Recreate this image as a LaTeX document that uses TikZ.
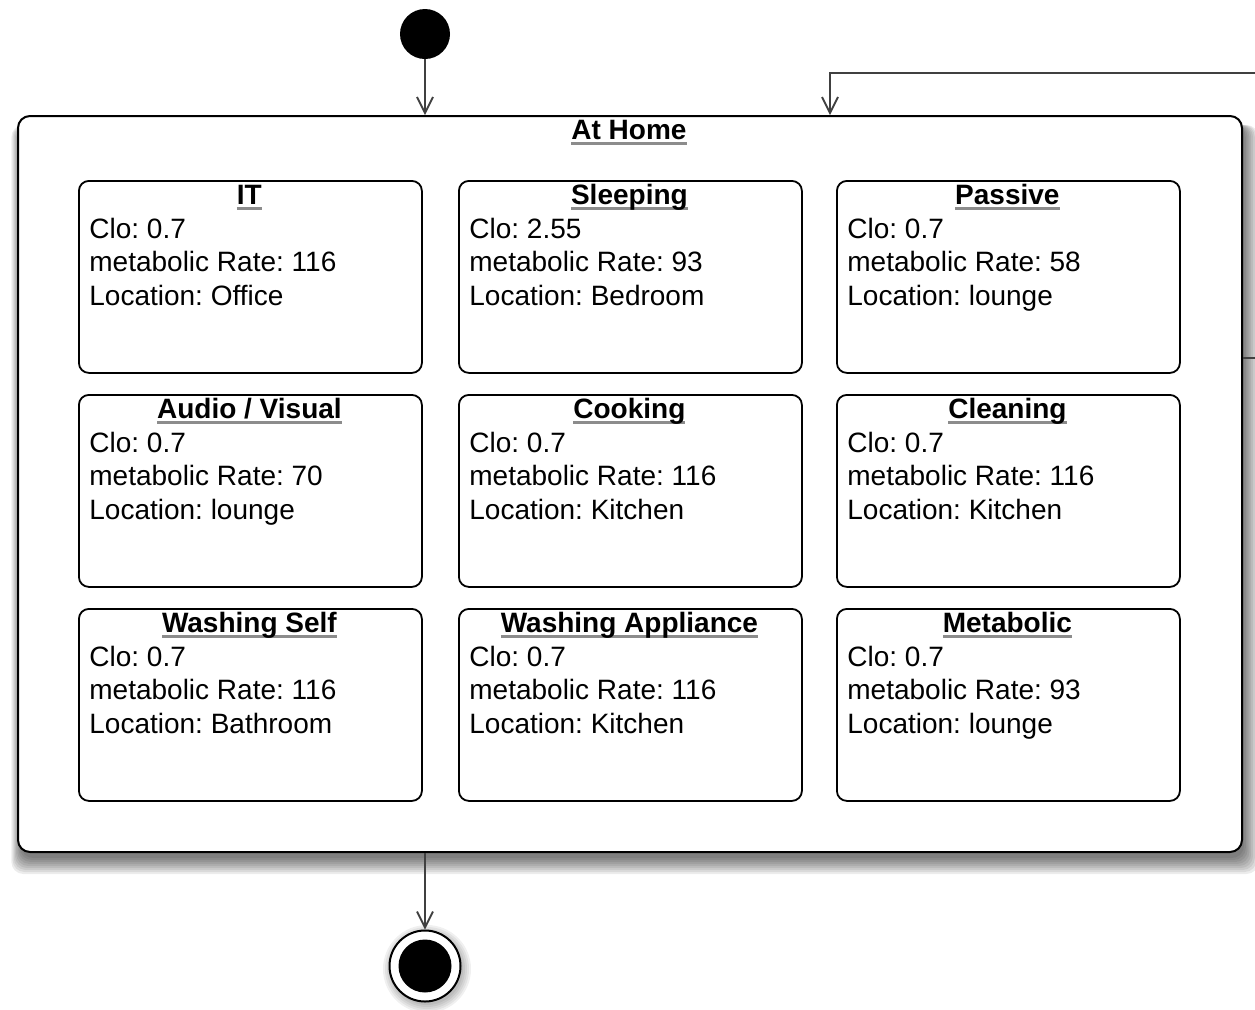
\documentclass[tikz,border=0pt]{standalone}
\usepackage{fontspec}
\setmainfont{Liberation Sans}
\usetikzlibrary{arrows.meta,calc}

\definecolor{ulgray}{gray}{0.55}
\definecolor{linkgray}{gray}{0.25}

% bold title with a grey underline below the baseline
\newcommand\ultitle[1]{\setbox0\hbox{\bfseries #1}\rlap{\textcolor{ulgray}{\rule[-3pt]{\wd0}{1.5pt}}}\box0}

\tikzset{
  stateframe/.style={draw, line width=0.9pt, rounded corners=5pt, fill=white,
    minimum width=171.5pt, minimum height=96pt, inner sep=0pt},
  statetitle/.style={anchor=base, inner sep=0pt, font=\fontsize{14}{16.75}\selectfont\frenchspacing},
  statebody/.style={anchor=base west, inner sep=0pt, font=\fontsize{14}{16.75}\selectfont\frenchspacing},
  flow/.style={draw=linkgray, line width=0.9pt,
    -{Straight Barb[length=8pt,width=8pt,line width=0.9pt]}},
}

% name, left, top, title, clo, rate, location
\newcommand\activity[7]{%
  \node[stateframe, anchor=north west] (#1) at (#2,#3) {};
  \node[statetitle] (#1-title) at ($(#1.north)+(-1,24)$) {\ultitle{#4}};
  \node[statebody] (#1-info) at ($(#1.north west)+(11,58)$)
    {\begin{tabular}[t]{@{}l@{}}Clo: #5\\ metabolic Rate: #6\\ Location: #7\end{tabular}};
}

\begin{document}
\begin{tikzpicture}[x=0.5pt, y=-0.5pt]
\useasboundingbox (0,0) rectangle (1255,1009);
\clip (0,0) rectangle (1255,1009);

% soft drop shadow of the composite state
\foreach \s in {0,2,...,16}
  \fill[black, fill opacity=0.075, rounded corners=6pt]
    (21-0.6*\s,125) rectangle (1244+0.9*\s,858+\s);

% composite state
\node[draw, line width=1pt, rounded corners=6pt, fill=white,
      minimum width=612pt, minimum height=368pt, inner sep=0pt, anchor=north west]
      (home) at (17,115) {};
\node[statetitle] (home-title) at ($(home.north)+(-1,24)$) {\ultitle{At Home}};

% sub-states
\activity{it}{78}{180}{IT}{0.7}{116}{Office}
\activity{sleep}{458}{180}{Sleeping}{2.55}{93}{Bedroom}
\activity{passive}{836}{180}{Passive}{0.7}{58}{lounge}
\activity{av}{78}{394}{Audio / Visual}{0.7}{70}{lounge}
\activity{cook}{458}{394}{Cooking}{0.7}{116}{Kitchen}
\activity{clean}{836}{394}{Cleaning}{0.7}{116}{Kitchen}
\activity{wself}{78}{608}{Washing Self}{0.7}{116}{Bathroom}
\activity{wapp}{458}{608}{Washing Appliance}{0.7}{116}{Kitchen}
\activity{metab}{836}{608}{Metabolic}{0.7}{93}{lounge}

% initial and final pseudo-states
\node[circle, fill=black, minimum size=25pt, inner sep=0pt] (start) at (425,34) {};
\foreach \s in {0,2,...,8}
  \fill[black, fill opacity=0.06] (427,969) circle ({18pt+0.5*\s pt});
\node[circle, draw, line width=1pt, fill=white, minimum size=35.5pt, inner sep=0pt] (end) at (425,966) {};
\node[circle, fill=black, minimum size=26.5pt, inner sep=0pt] (endcore) at (end) {};

% transitions
\draw[flow] (start) -- (start |- home.north);
\draw[flow] (home.south -| end) -- (end);

\coordinate (looplevel) at (0,358);
\coordinate (loopx) at (830,0);
\coordinate (loopcorner) at (1285,73);
\coordinate (loopexit) at (home.east |- looplevel);
\draw[flow] (loopexit) -- (loopexit -| loopcorner) -- (loopcorner)
  -- (loopcorner -| loopx) -- (home.north -| loopx);
\end{tikzpicture}
\end{document}
